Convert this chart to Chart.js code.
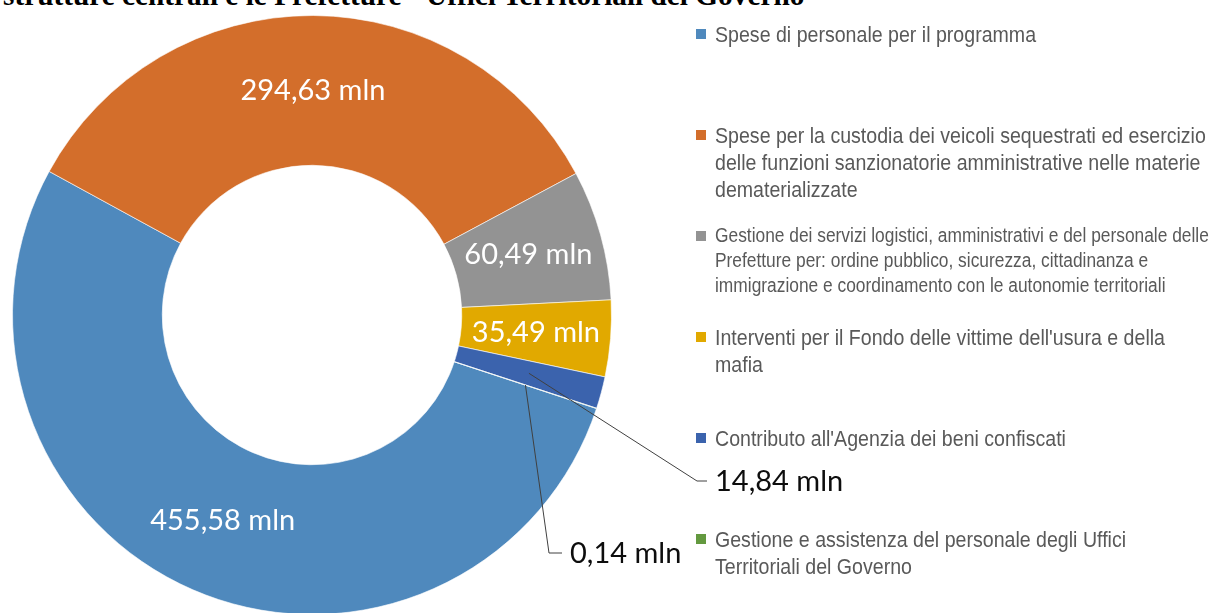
<!DOCTYPE html>
<html lang="it">
<head>
<meta charset="utf-8">
<title>Strutture centrali e Prefetture</title>
<script src="https://cdn.jsdelivr.net/npm/chart.js@4.4.1/dist/chart.umd.min.js"></script>
<style>
    html, body { margin: 0; padding: 0; background: #fff; }
    body { width: 1217px; height: 613px; overflow: hidden; position: relative; }
    #titolo {
        position: absolute; left: 3px; top: -20px;
        font: bold 29.3px "Liberation Serif", "Times New Roman", serif;
        line-height: 30px; color: #000; white-space: nowrap;
    }
    #grafico { position: absolute; left: 0; top: 0; }
    #legenda {
        position: absolute; left: 696px; top: 21px; width: 521px;
        font-family: "Liberation Sans", Arial, sans-serif;
        color: #595959;
    }
    .voce { position: relative; height: 101px; padding-left: 19px; font-size: 22px; line-height: 27px; white-space: nowrap; }
    .voce .quadrato { position: absolute; left: 0; top: 8px; width: 10px; height: 10px; }
    .voce .testo { display: inline-block; transform: scaleX(0.89); transform-origin: 0 0; }
    .voce:nth-child(3) { font-size: 19.5px; line-height: 25px; }
    .voce:nth-child(3) .quadrato { top: 8px; }
</style>
</head>
<body>
<div id="titolo">strutture centrali e le Prefetture - Uffici Territoriali del Governo</div>
<canvas id="grafico" width="1217" height="630"></canvas>
<div id="legenda"></div>

<script>
// voci della legenda (una riga per elemento)
const categorie = [
    ['Spese di personale per il programma'],
    ['Spese per la custodia dei veicoli sequestrati ed esercizio',
     'delle funzioni sanzionatorie amministrative nelle materie',
     'dematerializzate'],
    ['Gestione dei servizi logistici, amministrativi e del personale delle',
     'Prefetture per: ordine pubblico, sicurezza, cittadinanza e',
     'immigrazione e coordinamento con le autonomie territoriali'],
    ['Interventi per il Fondo delle vittime dell\'usura e della',
     'mafia'],
    ['Contributo all\'Agenzia dei beni confiscati'],
    ['Gestione e assistenza del personale degli Uffici',
     'Territoriali del Governo']
];

// milioni di euro
const valori = [455.58, 294.63, 60.49, 35.49, 14.84, 0.14];

const colori = ['#4F89BD', '#D36E2B', '#939393', '#E1A900', '#3B63AD', '#63993F'];

function formatta(v) {
    return v.toFixed(2).replace('.', ',') + ' mln';
}

// etichette: dentro la fetta per le grandi, con linea guida per le piccole
const richiami = {
    4: { gomito: [697, 481], fine: [707, 481] },
    5: { gomito: [549, 553], fine: [562, 553] }
};

const etichette = {
    id: 'etichette',
    afterDatasetsDraw(chart) {
        const ctx = chart.ctx;
        const meta = chart.getDatasetMeta(0);
        ctx.save();
        ctx.font = '29px Lato, "Open Sans", sans-serif';
        ctx.textBaseline = 'middle';
        meta.data.forEach((arco, i) => {
            const p = arco.tooltipPosition();
            const testo = formatta(valori[i]);
            const r = richiami[i];
            if (!r) {
                ctx.fillStyle = '#ffffff';
                ctx.textAlign = 'center';
                ctx.fillText(testo, p.x, p.y);
                return;
            }
            ctx.strokeStyle = '#404040';
            ctx.lineWidth = 1;
            ctx.beginPath();
            ctx.moveTo(p.x, p.y);
            ctx.lineTo(r.gomito[0], r.gomito[1]);
            ctx.lineTo(r.fine[0], r.fine[1]);
            ctx.stroke();
            ctx.fillStyle = '#0d0d0d';
            ctx.textAlign = 'left';
            ctx.fillText(testo, r.fine[0] + 8, r.fine[1] + 1);
        });
        ctx.restore();
    }
};

const grafico = new Chart(document.getElementById('grafico').getContext('2d'), {
    type: 'doughnut',
    data: {
        labels: categorie,
        datasets: [{
            data: valori,
            backgroundColor: colori,
            borderColor: 'rgba(255,255,255,0.6)',
            borderWidth: 1
        }]
    },
    options: {
        responsive: false,
        animation: false,
        cutout: '50%',
        rotation: 108.2,
        layout: { padding: { left: 12, top: 15, right: 605, bottom: 15 } },
        plugins: {
            legend: { display: false },
            tooltip: { enabled: false }
        }
    },
    plugins: [etichette]
});

// legenda HTML costruita dai dati del grafico
const legenda = document.getElementById('legenda');
categorie.forEach((righe, i) => {
    const voce = document.createElement('div');
    voce.className = 'voce';
    voce.innerHTML = `<span class="quadrato" style="background:${colori[i]}"></span><span class="testo">${righe.join('<br>')}</span>`;
    legenda.appendChild(voce);
});
</script>
</body>
</html>
